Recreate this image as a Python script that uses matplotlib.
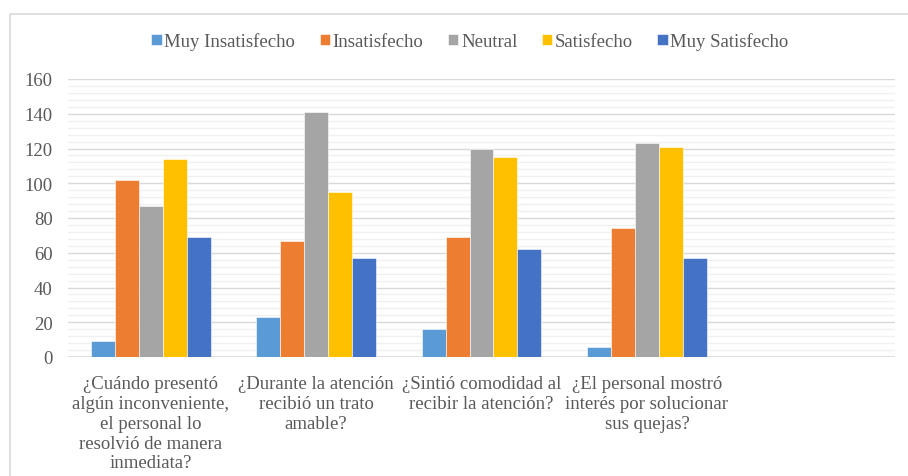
import matplotlib
matplotlib.use("Agg")
import matplotlib.pyplot as plt
import matplotlib.patches as mpatches
from matplotlib.ticker import MultipleLocator
import numpy as np

# Preguntas de la encuesta (la quinta categoría queda vacía)
preguntas = [
    "¿Cuándo presentó\nalgún inconveniente,\nel personal lo\nresolvió de manera\ninmediata?",
    "¿Durante la atención\nrecibió un trato\namable?",
    "¿Sintió comodidad al\nrecibir la atención?",
    "¿El personal mostró\ninterés por solucionar\nsus quejas?",
    "",
]

niveles = ["Muy Insatisfecho", "Insatisfecho", "Neutral", "Satisfecho", "Muy Satisfecho"]

muy_insatisfecho = [9, 23, 16, 6, 0]
insatisfecho = [102, 67, 69, 74, 0]
neutral = [87, 141, 120, 123, 0]
satisfecho = [114, 95, 115, 121, 0]
muy_satisfecho = [69, 57, 62, 57, 0]

colores = ["#5B9BD5", "#ED7D31", "#A5A5A5", "#FFC000", "#4472C4"]
series = [muy_insatisfecho, insatisfecho, neutral, satisfecho, muy_satisfecho]

GRIS_TEXTO = "#595959"
TAM = 13.5
plt.rcParams["font.family"] = ["Liberation Serif", "DejaVu Serif"]

fig = plt.figure(figsize=(9.08, 4.77), dpi=100)
ax = fig.add_axes([68 / 908, 1 - 358 / 477, 827 / 908, 278 / 477])

# Marco del área del gráfico
marco = mpatches.Rectangle((10 / 908, -0.1), 2, 1 - 15 / 477 + 0.1,
                           transform=fig.transFigure, fill=False,
                           edgecolor="#d9d9d9", linewidth=1.2, zorder=0)
fig.patches.append(marco)

x = np.arange(len(preguntas))
ancho = 0.145
for i, (nombre, valores, color) in enumerate(zip(niveles, series, colores)):
    pos = x + (i - 2) * ancho
    ax.bar(pos, valores, width=ancho, color=color, label=nombre,
           edgecolor="white", linewidth=0.4, zorder=3)

ax.set_xlim(-0.5, len(preguntas) - 0.5)
ax.set_ylim(0, 160)
ax.yaxis.set_major_locator(MultipleLocator(20))
ax.yaxis.set_minor_locator(MultipleLocator(4))
ax.grid(which="major", axis="y", color="#d9d9d9", linewidth=1.0, zorder=0)
ax.grid(which="minor", axis="y", color="#f0f0f0", linewidth=1.0, zorder=0)
ax.set_axisbelow(True)

for lado in ["top", "right", "left", "bottom"]:
    ax.spines[lado].set_visible(False)
ax.axhline(0, color="#d9d9d9", linewidth=1.2, zorder=2)

ax.set_xticks(x)
ax.set_xticklabels(preguntas, fontsize=TAM, color=GRIS_TEXTO, linespacing=1.22)
ax.tick_params(axis="x", length=0, pad=13)
ax.tick_params(axis="y", which="both", length=0, pad=11, labelsize=TAM, labelcolor=GRIS_TEXTO)

leyenda = fig.legend(loc="center", bbox_to_anchor=(470 / 908, 1 - 42 / 477), ncol=5,
                     frameon=False, fontsize=TAM, handlelength=0.55, handleheight=0.55,
                     handletextpad=0.15, columnspacing=1.3)
for t in leyenda.get_texts():
    t.set_color(GRIS_TEXTO)

fig.savefig("out.png", dpi=100)
